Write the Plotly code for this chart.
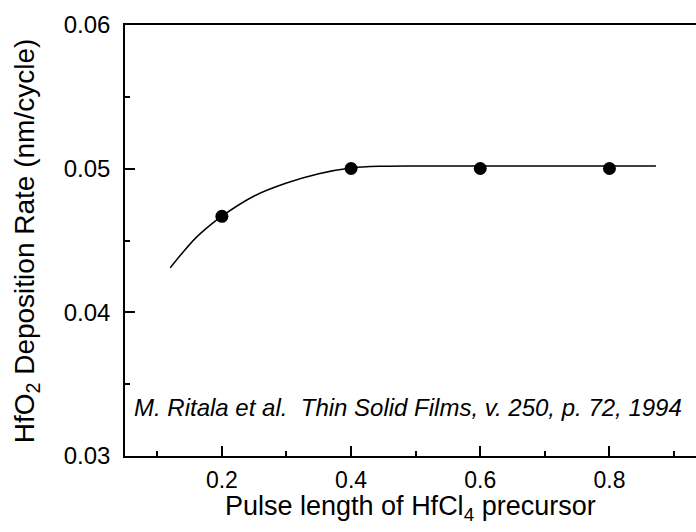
import plotly.graph_objects as go

# measured data points
pulse_x = [0.2, 0.4, 0.6, 0.8]
rate_y = [0.04668, 0.05001, 0.05001, 0.05001]

# fitted curve
fit_x = [0.12, 0.14, 0.16, 0.18, 0.2, 0.25, 0.3, 0.35, 0.4, 0.45, 0.5, 0.6, 0.7, 0.8, 0.872]
fit_y = [0.0431, 0.0442, 0.0452, 0.0460, 0.0467, 0.0481, 0.0490, 0.04965, 0.05005, 0.05017, 0.05019, 0.05019, 0.05019, 0.05018, 0.05018]

x_ticks = [0.2, 0.4, 0.6, 0.8]
y_ticks = [0.03, 0.04, 0.05, 0.06]

FONT = "Arial, Liberation Sans, sans-serif"

fig = go.Figure()
fig.add_trace(go.Scatter(x=fit_x, y=fit_y, mode="lines",
                         line=dict(color="black", width=1.5, shape="spline"),
                         hoverinfo="skip", showlegend=False))
fig.add_trace(go.Scatter(x=pulse_x, y=rate_y, mode="markers",
                         marker=dict(color="black", size=13), showlegend=False))

fig.add_annotation(text="<i>M. Ritala et al.  Thin Solid Films, v. 250, p. 72, 1994</i>",
                   xref="paper", yref="paper", x=0.012, y=0.113,
                   xanchor="left", yanchor="middle", showarrow=False,
                   font=dict(family=FONT, size=24, color="black"))

# axis titles as positioned annotations
fig.add_annotation(text="Pulse length of HfCl<sub>4</sub> precursor",
                   xref="paper", yref="paper", x=0.5, y=-0.12,
                   xanchor="center", yanchor="middle", showarrow=False,
                   font=dict(family=FONT, size=27, color="black"))
fig.add_annotation(text="HfO<sub>2</sub> Deposition Rate (nm/cycle)", textangle=-90,
                   xref="paper", yref="paper", x=-0.172, y=0.5,
                   xanchor="center", yanchor="middle", showarrow=False,
                   font=dict(family=FONT, size=28, color="black"))

fig.update_xaxes(range=[0.05, 0.934], tickvals=x_ticks, ticktext=[f"{v:.1f}" for v in x_ticks],
                 ticks="inside", ticklen=10, tickwidth=1.5, tickcolor="black",
                 minor=dict(dtick=0.1, tick0=0, ticks="inside", ticklen=5, tickwidth=1.5, tickcolor="black"),
                 showline=True, linecolor="black", linewidth=1.5, mirror=True,
                 showgrid=False, zeroline=False, ticklabelstandoff=3,
                 tickfont=dict(family=FONT, size=23, color="black"))
fig.update_yaxes(range=[0.03, 0.06], tickvals=y_ticks, ticktext=[f"{v:.2f}" for v in y_ticks],
                 ticks="inside", ticklen=10, tickwidth=1.5, tickcolor="black",
                 minor=dict(dtick=0.005, tick0=0, ticks="inside", ticklen=5, tickwidth=1.5, tickcolor="black"),
                 showline=True, linecolor="black", linewidth=1.5,
                 showgrid=False, zeroline=False, ticklabelstandoff=8,
                 tickfont=dict(family=FONT, size=24, color="black"))

fig.update_layout(width=696, height=532, margin=dict(l=125, r=0, t=25, b=76),
                  plot_bgcolor="white", paper_bgcolor="white")
fig.write_html("out.html")
